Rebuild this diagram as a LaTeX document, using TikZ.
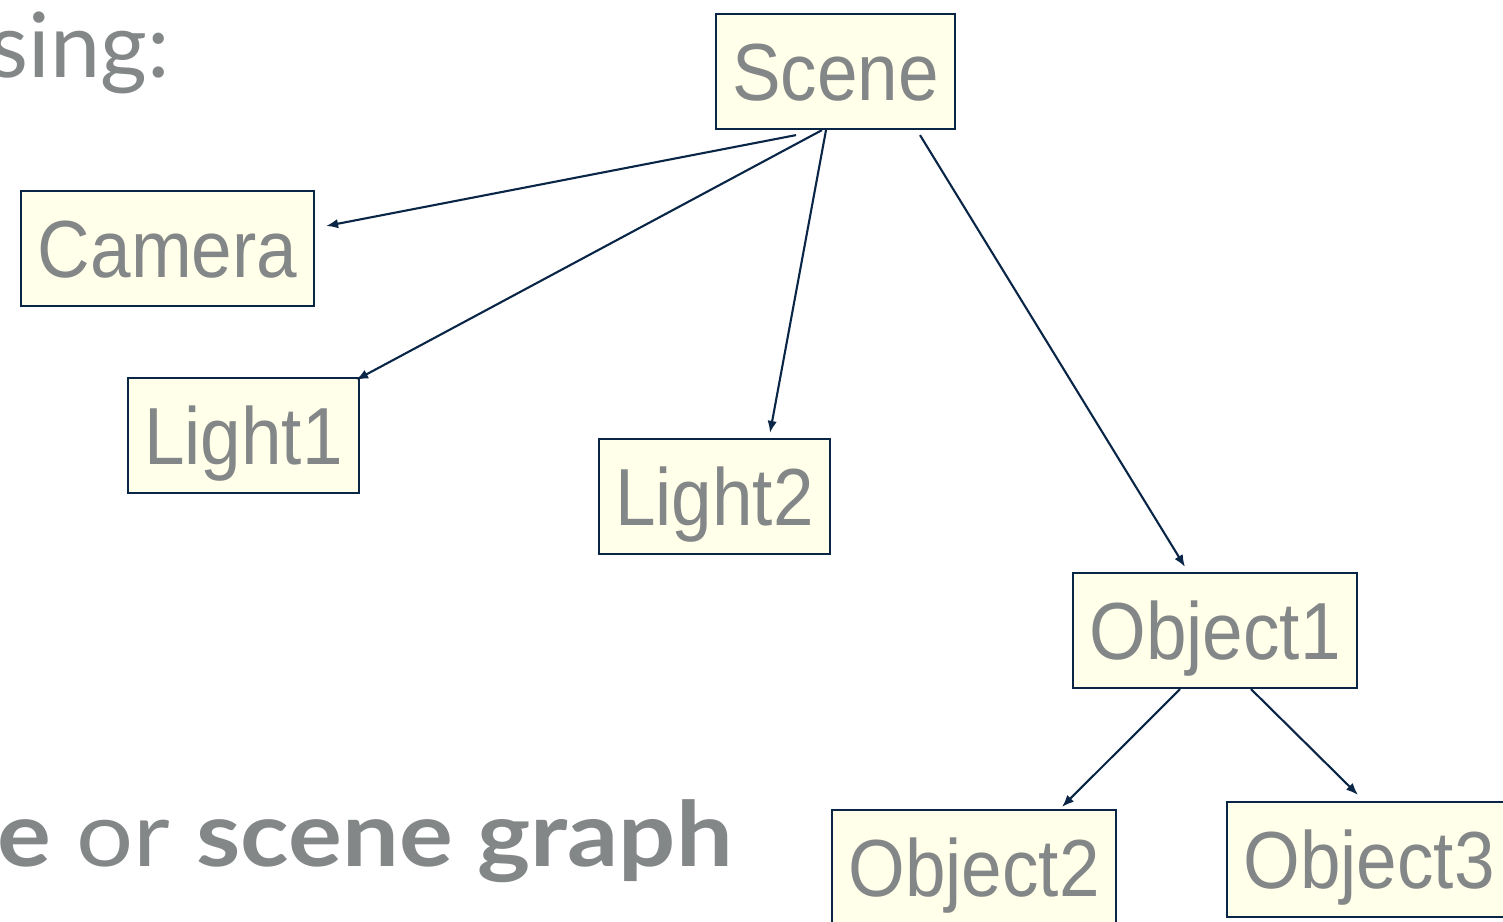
\documentclass[tikz,border=0pt]{standalone}
\usepackage{fontspec}
\usetikzlibrary{arrows.meta,calc}
\newfontfamily\boxfont[FakeStretch=0.9]{Liberation Sans}
\newfontfamily\headfont{Lato}
\newfontfamily\footfont[FakeStretch=1.12]{Lato}
\definecolor{boxfill}{RGB}{255,255,234}
\definecolor{boxline}{RGB}{10,38,70}
\definecolor{txtgray}{RGB}{132,135,136}
\tikzset{
  objbox/.style={draw=boxline, line width=2.2pt, fill=boxfill, inner sep=0pt,
    minimum height=115pt, text height=58pt, text depth=0pt,
    font=\boxfont\fontsize{81}{90}\selectfont, text=txtgray},
  link/.style={draw=boxline, line width=2.1pt, -{Latex[length=12pt,width=9.5pt]}},
  headtext/.style={inner sep=0pt, text=txtgray, font=\headfont\fontsize{90}{100}\selectfont},
  foottext/.style={inner sep=0pt, text=txtgray, font=\footfont\fontsize{90}{100}\selectfont}
}
\begin{document}
\begin{tikzpicture}[x=1pt,y=-1pt]
\useasboundingbox (0,0) rectangle (1503,921);
\fill[white] (0,0) rectangle (1503,921);
\node[headtext, anchor=base east] (head) at (170,77) {sing:};
\node[foottext, anchor=base east] (foot) at (733,866) {\textbf{ee} or \textbf{scene graph}};
\node[objbox, minimum width=239pt] (scene) at (835.5,71.5) {Scene};
\node[objbox, minimum width=293pt] (camera) at (167.5,248.5) {Camera};
\node[objbox, minimum width=231pt] (light1) at (243.5,435.5) {Light1};
\node[objbox, minimum width=231pt] (light2) at (714.5,496.5) {Light2};
\node[objbox, minimum width=284pt] (obj1) at (1215,630.5) {Object1};
\node[objbox, minimum width=284pt] (obj2) at (974,867.5) {Object2};
\node[objbox, minimum width=284pt] (obj3) at (1369,859.5) {Object3};
\draw[link] ($(scene.south)+(-39.5,5)$) -- ($(camera.east)+(11,-22.5)$);
\draw[link] ($(scene.south)+(-13.5,0)$) -- ($(light1.north east)+(-4,3)$);
\draw[link] ($(scene.south)+(-9.5,0)$) -- ($(light2.north)+(55.5,-5)$);
\draw[link] ($(scene.south)+(84.5,5)$) -- ($(obj1.north)+(-30,-5)$);
\draw[link] ($(obj1.south)+(-35,0)$) -- ($(obj2.north)+(88,-2)$);
\draw[link] ($(obj1.south)+(36,0)$) -- ($(obj3.north)+(-11,-6)$);
\end{tikzpicture}
\end{document}
